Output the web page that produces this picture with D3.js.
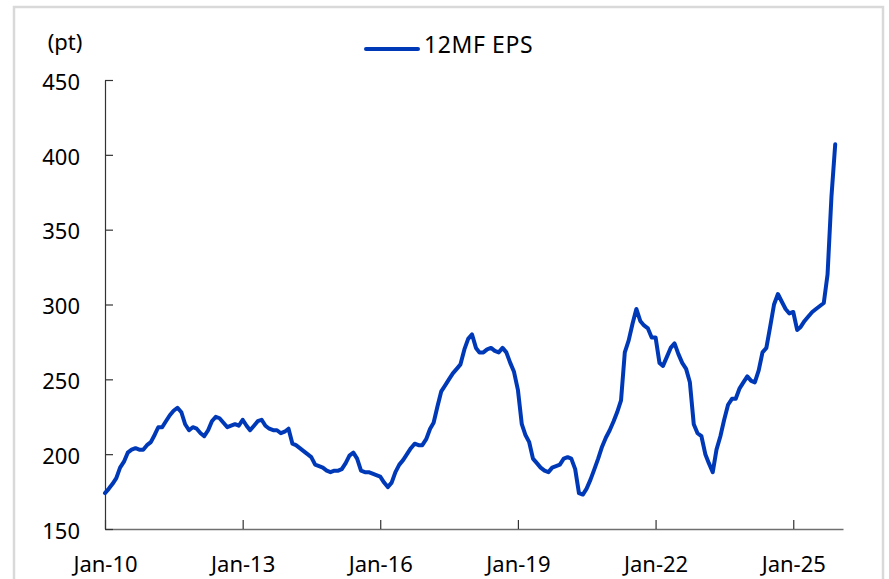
<!DOCTYPE html>
<html>
<head>
    <meta charset="UTF-8">
    <title>12MF EPS</title>
    <script type="text/javascript" src="https://cdnjs.cloudflare.com/ajax/libs/d3/7.8.5/d3.min.js"></script>
    <style>
        body {
            margin: 0;
            background: #ffffff;
        }
        text {
            font-family: "Noto Sans", sans-serif;
            font-size: 22px;
            fill: #000000;
        }
        .legend-text {
            font-size: 23px;
            letter-spacing: 0.6px;
        }
    </style>
</head>
<body>
<div id="chart"></div>

<script>
    // monthly values from Jan-2010 (12 per row)
    var startMonth = "2010-01";
    var eps = [
        174, 177, 180, 184, 191, 195, 201, 203, 204, 203, 203, 206,   // 2010
        208, 213, 218, 218, 222, 226, 229, 231, 228, 220, 216, 218,   // 2011
        217, 214, 212, 216, 222, 225, 224, 221, 218, 219, 220, 219,   // 2012
        223, 219, 216, 219, 222, 223, 219, 217, 216, 216, 214, 215,   // 2013
        217, 207, 206, 204, 202, 200, 198, 193, 192, 191, 189, 188,   // 2014
        189, 189, 190, 194, 199, 201, 197, 189, 188, 188, 187, 186,   // 2015
        185, 181, 178, 181, 188, 193, 196, 200, 204, 207, 206, 206,   // 2016
        210, 217, 221, 232, 242, 246, 250, 254, 257, 260, 270, 277,   // 2017
        280, 271, 268, 268, 270, 271, 269, 268, 271, 268, 261, 255,   // 2018
        243, 220, 213, 208, 197, 194, 191, 189, 188, 191, 192, 193,   // 2019
        197, 198, 197, 190, 174, 173, 177, 183, 190, 197, 205, 211,   // 2020
        216, 222, 228, 236, 268, 276, 287, 297, 289, 286, 284, 278,   // 2021
        278, 261, 259, 265, 271, 274, 267, 261, 257, 248, 220, 214,   // 2022
        212, 200, 194, 188, 203, 212, 223, 233, 237, 237, 244, 248,   // 2023
        252, 249, 248, 256, 268, 271, 285, 300, 307, 302, 297, 294,   // 2024
        295, 283, 285, 289, 292, 295, 297, 299, 301, 320, 372, 407    // 2025
    ];
    var seriesName = "12MF EPS";
    var unitLabel = "(pt)";
    var tickYears = [2010, 2013, 2016, 2019, 2022, 2025];
    var xTickLabels = ["Jan-10", "Jan-13", "Jan-16", "Jan-19", "Jan-22", "Jan-25"];
    var yTicks = [150, 200, 250, 300, 350, 400, 450];

    var width = 889, height = 579;
    var lineColor = "#0039b8";

    var parseMonth = d3.timeParse("%Y-%m");
    var start = parseMonth(startMonth);
    var data = eps.map(function (v, i) {
        return {date: d3.timeMonth.offset(start, i), value: v};
    });

    var svg = d3.select("#chart").append("svg")
        .attr("width", width)
        .attr("height", height);

    // outer frame
    svg.append("rect")
        .attr("x", 14).attr("y", 7)
        .attr("width", 869).attr("height", 620)
        .attr("fill", "none")
        .attr("stroke", "#d9d9d9")
        .attr("stroke-width", 2.5);

    var x = d3.scaleTime()
        .domain([new Date(2010, 0, 1), new Date(2026, 1, 1)])
        .range([105, 843]);

    var y = d3.scaleLinear()
        .domain([150, 450])
        .range([529, 80]);

    var xAxis = d3.axisBottom(x)
        .tickValues(tickYears.map(function (yr) { return new Date(yr, 0, 1); }))
        .tickFormat(function (d, i) { return xTickLabels[i]; })
        .tickSizeInner(-9)
        .tickSizeOuter(0)
        .tickPadding(27);

    var yAxis = d3.axisLeft(y)
        .tickValues(yTicks)
        .tickFormat(d3.format("d"))
        .tickSizeInner(-8)
        .tickSizeOuter(0)
        .tickPadding(25);

    var gx = svg.append("g")
        .attr("transform", "translate(0," + y(150) + ")")
        .call(xAxis);
    gx.select(".domain").attr("stroke", "#6f6f6f").attr("stroke-width", 1.3);
    gx.selectAll(".tick line").attr("stroke", "#333333").attr("stroke-width", 1.2);
    gx.selectAll("text").attr("font-family", null).attr("font-size", null);

    var gy = svg.append("g")
        .attr("transform", "translate(" + x(new Date(2010, 0, 1)) + ",0)")
        .call(yAxis);
    gy.select(".domain").attr("stroke", "#333333").attr("stroke-width", 1.2);
    gy.selectAll(".tick line").attr("stroke", "#333333").attr("stroke-width", 1.2);
    gy.selectAll("text").attr("font-family", null).attr("font-size", null).attr("dy", "0.42em");

    // unit label
    svg.append("text")
        .attr("x", 65).attr("y", 50)
        .attr("text-anchor", "middle")
        .text(unitLabel);

    // legend
    svg.append("line")
        .attr("x1", 366).attr("x2", 418)
        .attr("y1", 49).attr("y2", 49)
        .attr("stroke", lineColor)
        .attr("stroke-width", 4)
        .attr("stroke-linecap", "round");
    svg.append("text")
        .attr("class", "legend-text")
        .attr("x", 424).attr("y", 53)
        .text(seriesName);

    var line = d3.line()
        .x(function (d) { return x(d.date); })
        .y(function (d) { return y(d.value); });

    svg.append("path")
        .datum(data)
        .attr("d", line)
        .attr("fill", "none")
        .attr("stroke", lineColor)
        .attr("stroke-width", 4)
        .attr("stroke-linejoin", "round")
        .attr("stroke-linecap", "round");
</script>
</body>
</html>
